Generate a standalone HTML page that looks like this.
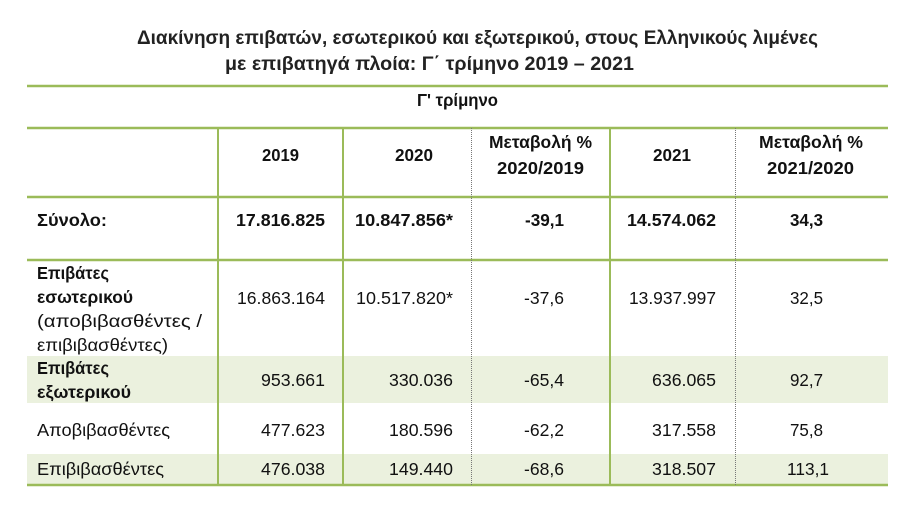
<!DOCTYPE html>
<html><head><meta charset="utf-8"><style>html,body{margin:0;padding:0;background:#fff}svg{display:block}</style></head>
<body>
<svg width="916" height="516" viewBox="0 0 916 516" xmlns="http://www.w3.org/2000/svg" font-family="'Liberation Sans','DejaVu Sans',sans-serif">
<rect width="916" height="516" fill="#fff"/>
<rect x="27" y="356" width="861" height="47" fill="#ebf1de"/>
<rect x="27" y="454" width="861" height="31" fill="#ebf1de"/>
<g font-weight="bold" font-size="19" fill="#222">
<text x="137" y="44" textLength="681" lengthAdjust="spacingAndGlyphs">Διακίνηση επιβατών, εσωτερικού και εξωτερικού, στους Ελληνικούς λιμένες</text>
<text x="225" y="70" textLength="409" lengthAdjust="spacingAndGlyphs">με επιβατηγά πλοία:   Γ΄ τρίμηνο 2019 – 2021</text>
</g>
<g stroke="#9bbb59" stroke-width="2.5">
<line x1="27" y1="86" x2="888" y2="86"/>
<line x1="27" y1="128" x2="888" y2="128"/>
<line x1="27" y1="197" x2="888" y2="197"/>
<line x1="27" y1="260" x2="888" y2="260"/>
<line x1="27" y1="485" x2="888" y2="485"/>
</g>
<g stroke="#9bbb59" stroke-width="2">
<line x1="218" y1="128" x2="218" y2="485"/>
<line x1="343" y1="128" x2="343" y2="485"/>
<line x1="610" y1="128" x2="610" y2="485"/>
</g>
<g stroke="#777" stroke-width="1" stroke-dasharray="1,1">
<line x1="471.5" y1="128" x2="471.5" y2="485"/>
<line x1="735.5" y1="128" x2="735.5" y2="485"/>
</g>
<g font-size="17.5" fill="#111" lengthAdjust="spacingAndGlyphs">
<g font-weight="bold">
<text x="417" y="106" textLength="81" lengthAdjust="spacingAndGlyphs">Γ' τρίμηνο</text>
<text x="262" y="161" textLength="37" lengthAdjust="spacingAndGlyphs">2019</text>
<text x="395" y="161" textLength="38" lengthAdjust="spacingAndGlyphs">2020</text>
<text x="489" y="148" textLength="103" lengthAdjust="spacingAndGlyphs">Μεταβολή %</text>
<text x="497" y="174" textLength="87" lengthAdjust="spacingAndGlyphs">2020/2019</text>
<text x="653" y="161" textLength="38" lengthAdjust="spacingAndGlyphs">2021</text>
<text x="759" y="148" textLength="104" lengthAdjust="spacingAndGlyphs">Μεταβολή %</text>
<text x="767" y="174" textLength="87" lengthAdjust="spacingAndGlyphs">2021/2020</text>
<text x="37" y="226" textLength="70" lengthAdjust="spacingAndGlyphs">Σύνολο:</text>
<text x="236" y="226" textLength="89" lengthAdjust="spacingAndGlyphs">17.816.825</text>
<text x="355" y="226" textLength="98" lengthAdjust="spacingAndGlyphs">10.847.856*</text>
<text x="525" y="226" textLength="39" lengthAdjust="spacingAndGlyphs">-39,1</text>
<text x="627" y="226" textLength="89" lengthAdjust="spacingAndGlyphs">14.574.062</text>
<text x="790" y="226" textLength="33" lengthAdjust="spacingAndGlyphs">34,3</text>
<text x="37" y="279" textLength="72" lengthAdjust="spacingAndGlyphs">Επιβάτες</text>
<text x="37" y="303" textLength="96" lengthAdjust="spacingAndGlyphs">εσωτερικού</text>
<text x="37" y="374" textLength="72" lengthAdjust="spacingAndGlyphs">Επιβάτες</text>
<text x="37" y="398" textLength="94" lengthAdjust="spacingAndGlyphs">εξωτερικού</text>
</g>
<text x="37" y="327" textLength="165" lengthAdjust="spacingAndGlyphs">(αποβιβασθέντες /</text>
<text x="37" y="351" textLength="131" lengthAdjust="spacingAndGlyphs">επιβιβασθέντες)</text>
<text x="37" y="436" textLength="133" lengthAdjust="spacingAndGlyphs">Αποβιβασθέντες</text>
<text x="37" y="475" textLength="127" lengthAdjust="spacingAndGlyphs">Επιβιβασθέντες</text>
<g text-anchor="end">
<text x="325" y="304" textLength="88" lengthAdjust="spacingAndGlyphs">16.863.164</text>
<text x="453" y="304" textLength="97" lengthAdjust="spacingAndGlyphs">10.517.820*</text>
<text x="564" y="304" textLength="40" lengthAdjust="spacingAndGlyphs">-37,6</text>
<text x="716" y="304" textLength="87" lengthAdjust="spacingAndGlyphs">13.937.997</text>
<text x="823" y="304" textLength="33" lengthAdjust="spacingAndGlyphs">32,5</text>
<text x="325" y="386" textLength="64" lengthAdjust="spacingAndGlyphs">953.661</text>
<text x="453" y="386" textLength="64" lengthAdjust="spacingAndGlyphs">330.036</text>
<text x="564" y="386" textLength="40" lengthAdjust="spacingAndGlyphs">-65,4</text>
<text x="716" y="386" textLength="64" lengthAdjust="spacingAndGlyphs">636.065</text>
<text x="823" y="386" textLength="33" lengthAdjust="spacingAndGlyphs">92,7</text>
<text x="325" y="436" textLength="64" lengthAdjust="spacingAndGlyphs">477.623</text>
<text x="453" y="436" textLength="64" lengthAdjust="spacingAndGlyphs">180.596</text>
<text x="564" y="436" textLength="40" lengthAdjust="spacingAndGlyphs">-62,2</text>
<text x="716" y="436" textLength="64" lengthAdjust="spacingAndGlyphs">317.558</text>
<text x="823" y="436" textLength="33" lengthAdjust="spacingAndGlyphs">75,8</text>
<text x="325" y="475" textLength="64" lengthAdjust="spacingAndGlyphs">476.038</text>
<text x="453" y="475" textLength="64" lengthAdjust="spacingAndGlyphs">149.440</text>
<text x="564" y="475" textLength="40" lengthAdjust="spacingAndGlyphs">-68,6</text>
<text x="716" y="475" textLength="64" lengthAdjust="spacingAndGlyphs">318.507</text>
<text x="829" y="475" textLength="42" lengthAdjust="spacingAndGlyphs">113,1</text>
</g>
</g>
</svg>
</body></html>
